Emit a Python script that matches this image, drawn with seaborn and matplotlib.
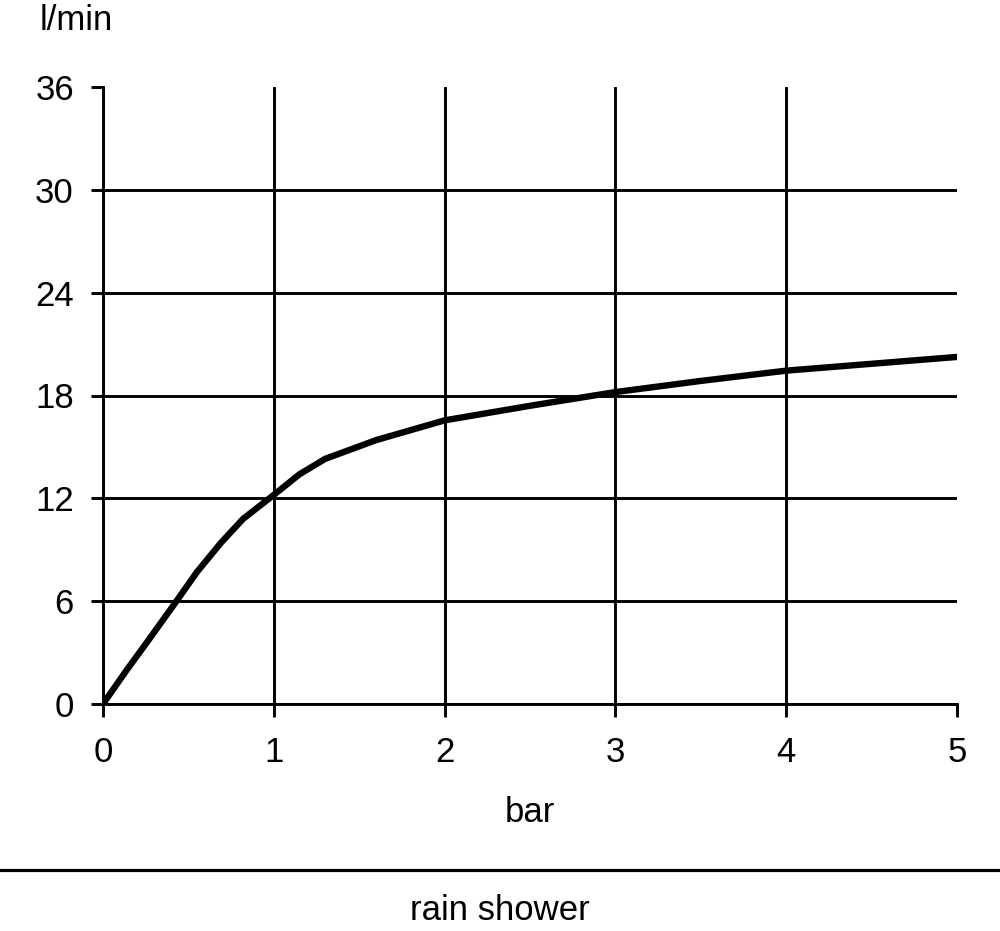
import matplotlib
matplotlib.use("Agg")
import matplotlib.pyplot as plt
import seaborn as sns
import pandas as pd
from matplotlib.lines import Line2D

pressure_bar = [0, 0.14, 0.25, 0.43, 0.55, 0.69, 0.82, 1.0, 1.15, 1.3, 1.6, 2.0, 2.5, 3.0, 3.5, 4.0, 4.5, 5.0]
flow_lpm = [0, 2.0, 3.5, 6.0, 7.7, 9.4, 10.8, 12.2, 13.4, 14.3, 15.4, 16.55, 17.4, 18.2, 18.85, 19.45, 19.85, 20.25]
x_ticks = [0, 1, 2, 3, 4, 5]
y_ticks = [0, 6, 12, 18, 24, 30, 36]
y_label = "l/min"
x_label = "bar"
caption = "rain shower"

sns.set_theme(style="ticks")
plt.rcParams['font.family'] = ['Liberation Sans', 'DejaVu Sans']

df = pd.DataFrame({"bar": pressure_bar, "lpm": flow_lpm})

fig = plt.figure(figsize=(10, 9.31), dpi=100)
ax = fig.add_axes([0.103, 1 - 704 / 931, 0.854, (704 - 87) / 931])

sns.lineplot(data=df, x="bar", y="lpm", ax=ax, color="black", linewidth=4.6, zorder=5)
ax.lines[0].set_solid_joinstyle("round")

ax.set_xlim(0, 5)
ax.set_ylim(0, 36)
ax.set_xticks(x_ticks)
ax.set_yticks(y_ticks)
ax.set_xticklabels([str(v) for v in x_ticks])
ax.set_yticklabels([str(v) for v in y_ticks])
ax.set_xlabel("")
ax.set_ylabel("")

ax.grid(True, color="black", linewidth=2.1)
for i, gl in enumerate(ax.yaxis.get_gridlines()):
    if y_ticks[i] == 36:
        gl.set_visible(False)
for i, gl in enumerate(ax.xaxis.get_gridlines()):
    if x_ticks[i] == 5:
        gl.set_visible(False)

for s in ["top", "right"]:
    ax.spines[s].set_visible(False)
for s in ["left", "bottom"]:
    ax.spines[s].set_color("black")
    ax.spines[s].set_linewidth(2.1)

ax.tick_params(axis="both", direction="out", length=9, width=2.1, color="black",
               labelsize=25, labelcolor="black")
ax.tick_params(axis="y", pad=12)
ax.tick_params(axis="x", pad=14)
ax.set_facecolor("white")
fig.patch.set_facecolor("white")

fig.text(0.04, 1 - 20 / 931, y_label, fontsize=25, ha="left", va="center", color="black")
fig.text(0.53, 1 - 813 / 931, x_label, fontsize=25, ha="center", va="center", color="black")
fig.add_artist(Line2D([0, 1], [1 - 870 / 931, 1 - 870 / 931], transform=fig.transFigure,
                      color="black", linewidth=2.3))
fig.text(0.5, 1 - 910 / 931, caption, fontsize=25, ha="center", va="center", color="black")

fig.savefig("out.png", dpi=100)
